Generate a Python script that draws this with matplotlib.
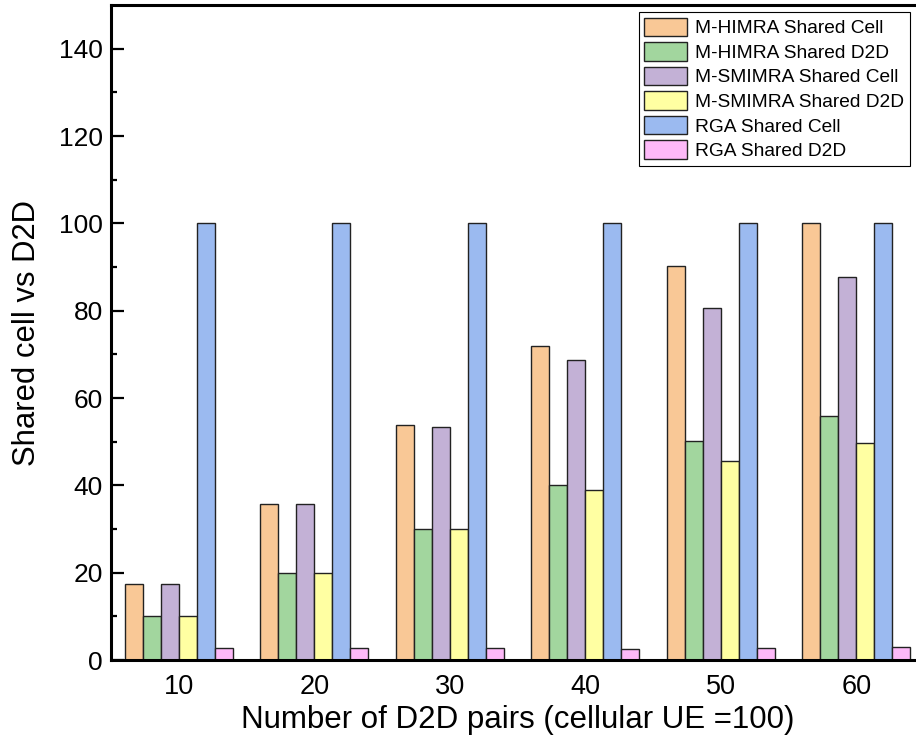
import matplotlib
matplotlib.use('Agg')
import matplotlib.pyplot as plt
import numpy as np

plt.rcParams['font.family'] = ['Liberation Sans', 'DejaVu Sans']

# D2D pairs
pairs = [10, 20, 30, 40, 50, 60]
himra_cell = [17.4, 35.8, 53.9, 72.0, 90.2, 100.0]
himra_d2d = [10.0, 20.0, 30.0, 40.0, 50.1, 55.8]
smimra_cell = [17.4, 35.8, 53.4, 68.6, 80.6, 87.8]
smimra_d2d = [10.0, 20.0, 30.0, 39.0, 45.6, 49.7]
rga_cell = [100, 100, 100, 100, 100, 100]
rga_d2d = [2.8, 2.8, 2.7, 2.5, 2.7, 2.9]

labels = ['M-HIMRA Shared Cell', 'M-HIMRA Shared D2D', 'M-SMIMRA Shared Cell',
          'M-SMIMRA Shared D2D', 'RGA Shared Cell', 'RGA Shared D2D']
colors = ['#F9C896', '#A2D69E', '#C3B1D6', '#FFFFA2', '#9BBAF0', '#FDB9F8']
series = [himra_cell, himra_d2d, smimra_cell, smimra_d2d, rga_cell, rga_d2d]

fig = plt.figure(figsize=(9.16, 7.48), dpi=100)
ax = fig.add_axes([111/916, 88/748, 813/916, 655/748])

x = np.array(pairs, dtype=float)
w = 1.33
for i, (vals, lab, c) in enumerate(zip(series, labels, colors)):
    ax.bar(x + (i - 2.5) * w, vals, width=w, color=c, edgecolor='#222222',
           linewidth=1.0, label=lab, zorder=2)

ax.set_xlim(5, 65)
ax.set_ylim(0, 150)
ax.set_xticks(pairs)
ax.set_yticks(np.arange(0, 141, 20))
ax.set_yticks(np.arange(10, 150, 20), minor=True)
ax.tick_params(axis='y', direction='in', length=9.5, width=1.6, labelsize=19, pad=6)
ax.tick_params(axis='y', which='minor', direction='in', length=4.5, width=1.6)
ax.tick_params(axis='x', length=0, labelsize=19.5, pad=10)
for s in ['left', 'bottom', 'top']:
    ax.spines[s].set_linewidth(2.2)
ax.spines['right'].set_visible(False)

ax.set_xlabel('Number of D2D pairs (cellular UE =100)', fontsize=22.5, labelpad=4)
ax.set_ylabel('Shared cell vs D2D', fontsize=22.3, labelpad=12)

leg = ax.legend(loc='upper right', bbox_to_anchor=(910/916, 1 - 12/748),
                bbox_transform=fig.transFigure, fontsize=13.8, frameon=True,
                fancybox=False, edgecolor='black', framealpha=1,
                handlelength=2.2, handleheight=1.1, labelspacing=0.25,
                handletextpad=0.45, borderpad=0.3, borderaxespad=0)
leg.get_frame().set_linewidth(0.8)

plt.savefig('out.png', dpi=100)
